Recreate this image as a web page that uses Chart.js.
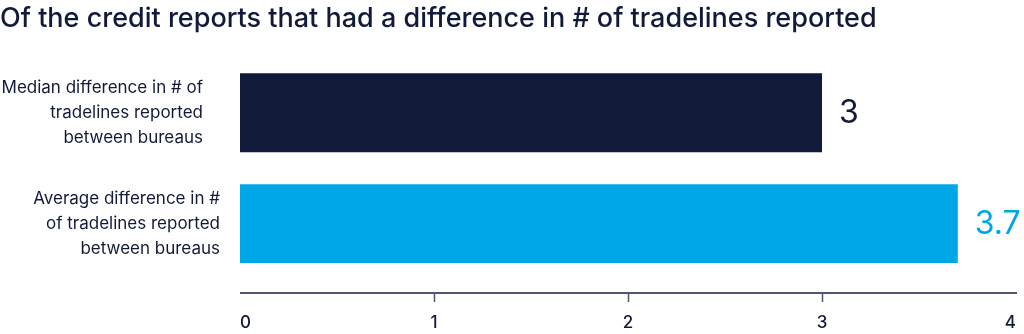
<!DOCTYPE html>
<html>
<head>
<meta charset="utf-8">
<script src="https://cdn.jsdelivr.net/npm/chart.js@4"></script>
<style>
    html, body { margin: 0; padding: 0; background: #ffffff; overflow: hidden; }
    canvas { display: block; }
</style>
</head>
<body>
<canvas id="tradelinesChart" width="1024" height="334"></canvas>
<script>
const categories = [
    ["Median difference in # of", "tradelines reported", "between bureaus"],
    ["Average difference in #", "of tradelines reported", "between bureaus"],
];
const values = [3, 3.7];
const valueLabels = ["3", "3.7"];
const xTicks = [0, 1, 2, 3, 4];

const navy = "#121a3a";
const blue = "#00a7e6";
const barColors = [navy, blue];

document.addEventListener("DOMContentLoaded", function () {
    const ctx = document.getElementById("tradelinesChart").getContext("2d");

    // axis line + small tick marks, drawn a little below the plot area
    const axisLine = {
        id: "axisLine",
        afterDraw(chart) {
            const x = chart.scales.x;
            const c = chart.ctx;
            const y = chart.chartArea.bottom + 14;
            c.save();
            c.strokeStyle = "#4f5770";
            c.lineWidth = 2;
            c.beginPath();
            c.moveTo(x.getPixelForValue(xTicks[0]), y);
            c.lineTo(x.getPixelForValue(xTicks[xTicks.length - 1]) + 1, y);
            c.stroke();
            c.lineWidth = 1.5;
            xTicks.slice(1, -1).forEach(function (t) {
                const px = Math.round(x.getPixelForValue(t)) + 0.5;
                c.beginPath();
                c.moveTo(px, y);
                c.lineTo(px, y + 9);
                c.stroke();
            });
            c.restore();
        },
    };

    // big value labels at the end of each bar
    const valueText = {
        id: "valueText",
        afterDatasetsDraw(chart) {
            const c = chart.ctx;
            const meta = chart.getDatasetMeta(0);
            c.save();
            c.font = "400 32px Inter";
            c.textAlign = "left";
            c.textBaseline = "middle";
            meta.data.forEach(function (bar, i) {
                c.fillStyle = barColors[i];
                c.fillText(valueLabels[i], bar.x + 17, bar.y + 1);
            });
            c.restore();
        },
    };

    new Chart(ctx, {
        type: "bar",
        data: {
            labels: categories,
            datasets: [
                {
                    data: values,
                    backgroundColor: barColors,
                    borderWidth: 0,
                    categoryPercentage: 1,
                    barPercentage: 0.712,
                },
            ],
        },
        options: {
            indexAxis: "y",
            responsive: false,
            animation: false,
            layout: {
                padding: { left: 0, right: 8, top: 0, bottom: 0 },
            },
            scales: {
                x: {
                    min: 0,
                    max: 4,
                    afterBuildTicks(scale) {
                        scale.ticks = xTicks.map(function (v) { return { value: v }; });
                    },
                    afterFit(scale) {
                        scale.height = 55;
                        scale.paddingLeft = 0;
                        scale.paddingRight = 0;
                    },
                    grid: { display: false, drawTicks: false },
                    border: { display: false },
                    ticks: {
                        align: "inner",
                        padding: 34,
                        color: navy,
                        font: { family: "Inter", size: 17, weight: "500", lineHeight: 1.2 },
                    },
                },
                y: {
                    afterFit(scale) {
                        scale.width = 240;
                        scale.paddingTop = 0;
                        scale.paddingBottom = 0;
                    },
                    grid: { display: false, drawTicks: false },
                    border: { display: false },
                    ticks: {
                        padding: 20,
                        color: navy,
                        font: { family: "Inter", size: 17, lineHeight: 1.47 },
                        callback: function (value, index) {
                            const lines = categories[index];
                            // first label sits a bit further from the bars
                            return index === 0 ? lines.map(function (l) { return l + "\u2003"; }) : lines;
                        },
                    },
                },
            },
            plugins: {
                legend: { display: false },
                tooltip: { enabled: false },
                title: {
                    display: true,
                    text: "Of the credit reports that had a difference in # of tradelines reported",
                    align: "start",
                    color: navy,
                    font: { family: "Inter", size: 27, weight: "500", lineHeight: 1.2 },
                    padding: { top: 3, bottom: 22 },
                },
            },
        },
        plugins: [axisLine, valueText],
    });
});
</script>
</body>
</html>
